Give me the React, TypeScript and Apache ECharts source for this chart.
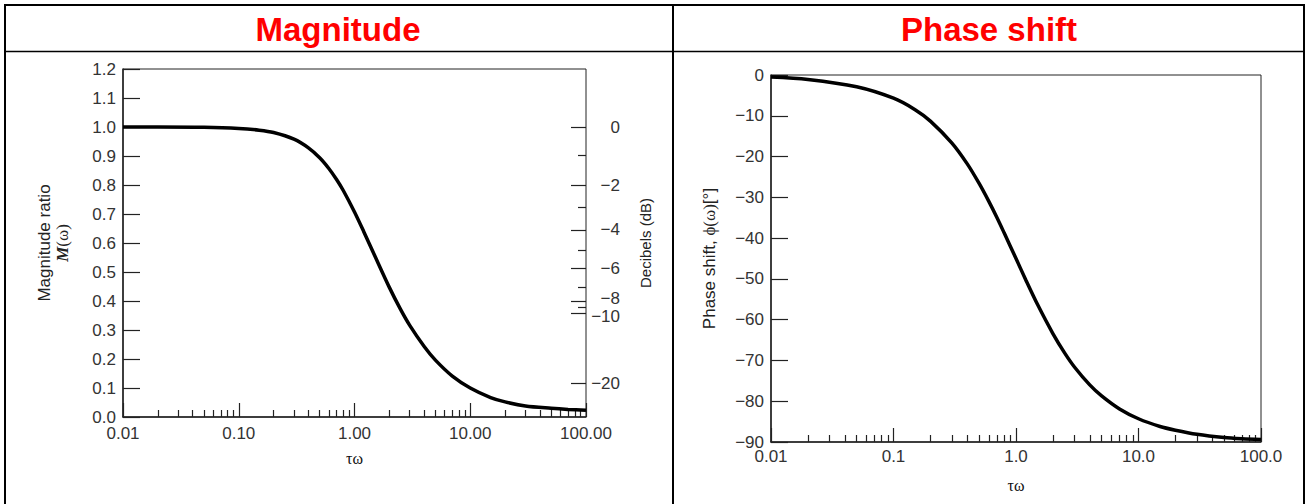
import { useEffect, useRef } from "react";
import * as echarts from "echarts";

// Normalised frequency τω and the first-order system response
const tauOmega = [0.01, 0.02, 0.05, 0.1, 0.15, 0.2, 0.3, 0.4, 0.5, 0.6, 0.7, 0.8, 1.0, 1.2, 1.5, 2, 2.5, 3, 4, 5, 7, 10, 15, 20, 30, 50, 70, 100];
const magnitudeRatio = [1.0, 1.0, 0.999, 0.995, 0.989, 0.981, 0.958, 0.928, 0.894, 0.857, 0.819, 0.781, 0.707, 0.64, 0.555, 0.447, 0.371, 0.316, 0.243, 0.196, 0.141, 0.1, 0.067, 0.052, 0.038, 0.03, 0.026, 0.023];
const phaseShiftDeg = [-0.5, -1.1, -2.9, -5.7, -8.5, -11.3, -16.7, -21.8, -26.6, -31.0, -35.0, -38.7, -45.0, -50.2, -56.3, -63.4, -68.2, -71.6, -76.0, -78.7, -81.9, -84.3, -86.2, -87.1, -88.1, -88.9, -89.2, -89.4];

// Log axis decades and their labels
const decades = [0.01, 0.1, 1, 10, 100];
const magnitudeXLabels = ["0.01", "0.10", "1.00", "10.00", "100.00"];
const phaseXLabels = ["0.01", "0.1", "1.0", "10.0", "100.0"];
const minorMultipliers = [2, 3, 4, 5, 6, 7, 8, 9];

// Decibel scale on the right of the magnitude plot (positions in magnitude ratio)
const dbLabels = ["0", "−2", "−4", "−6", "−8", "−10", "−20"];
const dbMajorAt = [1.0, 0.8, 0.645, 0.512, 0.4, 0.357, 0.115];
const dbLabelAt = [1.0, 0.8, 0.645, 0.512, 0.407, 0.345, 0.115];
const dbMinorAt = [0.902, 0.725, 0.575, 0.447, 0.378];

const magnitudeTicks = [0, 1.2, 0.1];
const phaseTicks = [-90, 0, 10];

const SANS = '"Liberation Sans", Arial, Helvetica, sans-serif';
const SERIF = '"Liberation Serif", "Times New Roman", serif';
const AXIS = "#222";
const TEXT = "#333";
const LABEL_SIZE = 17;

const minorTickValues: number[] = [];
decades.slice(0, -1).forEach((d) => minorMultipliers.forEach((m) => minorTickValues.push(+(d * m).toPrecision(3))));

const decadeIndex = (v: number) => Math.round(Math.log10(v)) + 2;

function logAxisPair(gridIndex: number, labels: string[], labelMargin: number, nameGap: number) {
  return [
    {
      gridIndex,
      type: "log",
      logBase: 10,
      position: "bottom",
      min: decades[0],
      max: decades[decades.length - 1],
      axisLine: { show: true, onZero: false, lineStyle: { color: AXIS, width: 1.5 } },
      axisTick: { show: true, inside: true, length: 14, lineStyle: { color: AXIS, width: 1.2 } },
      axisLabel: {
        fontFamily: SANS,
        fontSize: LABEL_SIZE,
        lineHeight: 12,
        color: TEXT,
        margin: labelMargin,
        formatter: (v: number) => labels[decadeIndex(v)] ?? "",
      },
      splitLine: { show: false },
      minorTick: { show: false },
      name: "τω",
      nameLocation: "middle",
      nameGap,
      nameTextStyle: { fontFamily: SERIF, fontSize: 16, color: "#111" },
    },
    {
      gridIndex,
      type: "log",
      logBase: 10,
      position: "bottom",
      min: decades[0],
      max: decades[decades.length - 1],
      axisLine: { show: false, onZero: false },
      axisTick: { show: true, inside: true, length: 7, customValues: minorTickValues, lineStyle: { color: AXIS, width: 1.2 } },
      axisLabel: { show: false },
      splitLine: { show: false },
    },
  ];
}

function buildOption() {
  const magData = tauOmega.map((t, i) => [t, magnitudeRatio[i]]);
  const phaseData = tauOmega.map((t, i) => [t, phaseShiftDeg[i]]);
  const rule = (x1: number, y1: number, x2: number, y2: number, w: number) => ({
    type: "line",
    shape: { x1, y1, x2, y2 },
    style: { stroke: "#000", lineWidth: w },
    silent: true,
  });
  const heading = (x: number, text: string) => ({
    type: "text",
    x,
    y: 29,
    style: { text, fill: "#ff0000", fontFamily: SANS, fontWeight: "bold", fontSize: 33, align: "center", verticalAlign: "middle" },
  });

  return {
    animation: false,
    backgroundColor: "#fff",
    grid: [
      { left: 123, top: 69, width: 463, height: 348, show: true, borderColor: AXIS, borderWidth: 1, outerBoundsMode: "none" },
      { left: 771, top: 75, width: 490, height: 367, show: true, borderColor: AXIS, borderWidth: 1, outerBoundsMode: "none" },
    ],
    xAxis: [...logAxisPair(0, magnitudeXLabels, 10, 33), ...logAxisPair(1, phaseXLabels, 8, 35)],
    yAxis: [
      {
        gridIndex: 0,
        type: "value",
        min: magnitudeTicks[0],
        max: magnitudeTicks[1],
        interval: magnitudeTicks[2],
        axisLine: { show: true, lineStyle: { color: AXIS, width: 1.5 } },
        axisTick: { show: true, inside: true, length: 17, lineStyle: { color: AXIS, width: 1.2 } },
        axisLabel: { fontFamily: SANS, fontSize: LABEL_SIZE, lineHeight: 12, color: TEXT, margin: 7, formatter: (v: number) => v.toFixed(1) },
        splitLine: { show: false },
        name: "{a|Magnitude ratio}\n{b|M}{c|(ω)}",
        nameLocation: "middle",
        nameRotate: 90,
        nameGap: 52,
        nameTextStyle: {
          align: "center",
          rich: {
            a: { fontFamily: SANS, fontSize: 17, color: "#222", lineHeight: 18 },
            b: { fontFamily: SERIF, fontSize: 17, fontStyle: "italic", fontWeight: "bold", color: "#222", lineHeight: 18 },
            c: { fontFamily: SERIF, fontSize: 17, color: "#222", lineHeight: 18 },
          },
        },
      },
      {
        gridIndex: 0,
        type: "value",
        position: "right",
        min: magnitudeTicks[0],
        max: magnitudeTicks[1],
        axisLine: { show: false },
        axisTick: { show: true, inside: true, length: 15, customValues: dbMajorAt, lineStyle: { color: AXIS, width: 1.2 } },
        axisLabel: {
          customValues: dbLabelAt,
          fontFamily: SANS,
          fontSize: LABEL_SIZE,
          lineHeight: 12,
          color: TEXT,
          align: "right",
          margin: 34,
          formatter: (v: number) => {
            const i = dbLabelAt.findIndex((m) => Math.abs(m - v) < 1e-6);
            return i >= 0 ? dbLabels[i] : "";
          },
        },
        splitLine: { show: false },
        name: "Decibels (dB)",
        nameLocation: "middle",
        nameRotate: 90,
        nameGap: 52,
        nameTextStyle: { fontFamily: SANS, fontSize: 15, color: "#222" },
      },
      {
        gridIndex: 0,
        type: "value",
        position: "right",
        min: magnitudeTicks[0],
        max: magnitudeTicks[1],
        axisLine: { show: false },
        axisTick: { show: true, inside: true, length: 8, customValues: dbMinorAt, lineStyle: { color: AXIS, width: 1.2 } },
        axisLabel: { show: false },
        splitLine: { show: false },
      },
      {
        gridIndex: 1,
        type: "value",
        min: phaseTicks[0],
        max: phaseTicks[1],
        interval: phaseTicks[2],
        axisLine: { show: true, onZero: false, lineStyle: { color: AXIS, width: 1.5 } },
        axisTick: { show: true, inside: true, length: 17, lineStyle: { color: AXIS, width: 1.2 } },
        axisLabel: {
          fontFamily: SANS,
          fontSize: LABEL_SIZE,
          lineHeight: 12,
          color: TEXT,
          margin: 7,
          formatter: (v: number) => (v < 0 ? "−" + Math.abs(v) : String(v)),
        },
        splitLine: { show: false },
        name: "{a|Phase shift, }{b|ϕ(ω)}{a|[°]}",
        nameLocation: "middle",
        nameRotate: 90,
        nameGap: 53,
        nameTextStyle: {
          rich: {
            a: { fontFamily: SANS, fontSize: 17, color: "#222" },
            b: { fontFamily: SERIF, fontSize: 17, color: "#222" },
          },
        },
      },
    ],
    series: [
      {
        type: "line",
        xAxisIndex: 0,
        yAxisIndex: 0,
        data: magData,
        smooth: 0.3,
        showSymbol: false,
        lineStyle: { color: "#000", width: 3.5 },
      },
      {
        type: "line",
        xAxisIndex: 2,
        yAxisIndex: 3,
        data: phaseData,
        smooth: 0.3,
        showSymbol: false,
        lineStyle: { color: "#000", width: 3.5 },
      },
    ],
    graphic: [
      rule(4, 5, 1305, 5, 2),
      rule(5, 4, 5, 504, 2),
      rule(673, 4, 673, 504, 2),
      rule(1304, 4, 1304, 504, 2),
      rule(5, 51.5, 1304, 51.5, 1.5),
      heading(338, "Magnitude"),
      heading(989, "Phase shift"),
    ],
  };
}

export default function App() {
  const ref = useRef<HTMLDivElement>(null);
  useEffect(() => {
    if (!ref.current) return;
    const chart = echarts.init(ref.current, undefined, { renderer: "svg" });
    chart.setOption(buildOption() as any);
    return () => chart.dispose();
  }, []);
  return <div ref={ref} style={{ position: "fixed", left: 0, top: 0, width: 1307, height: 504 }} />;
}
